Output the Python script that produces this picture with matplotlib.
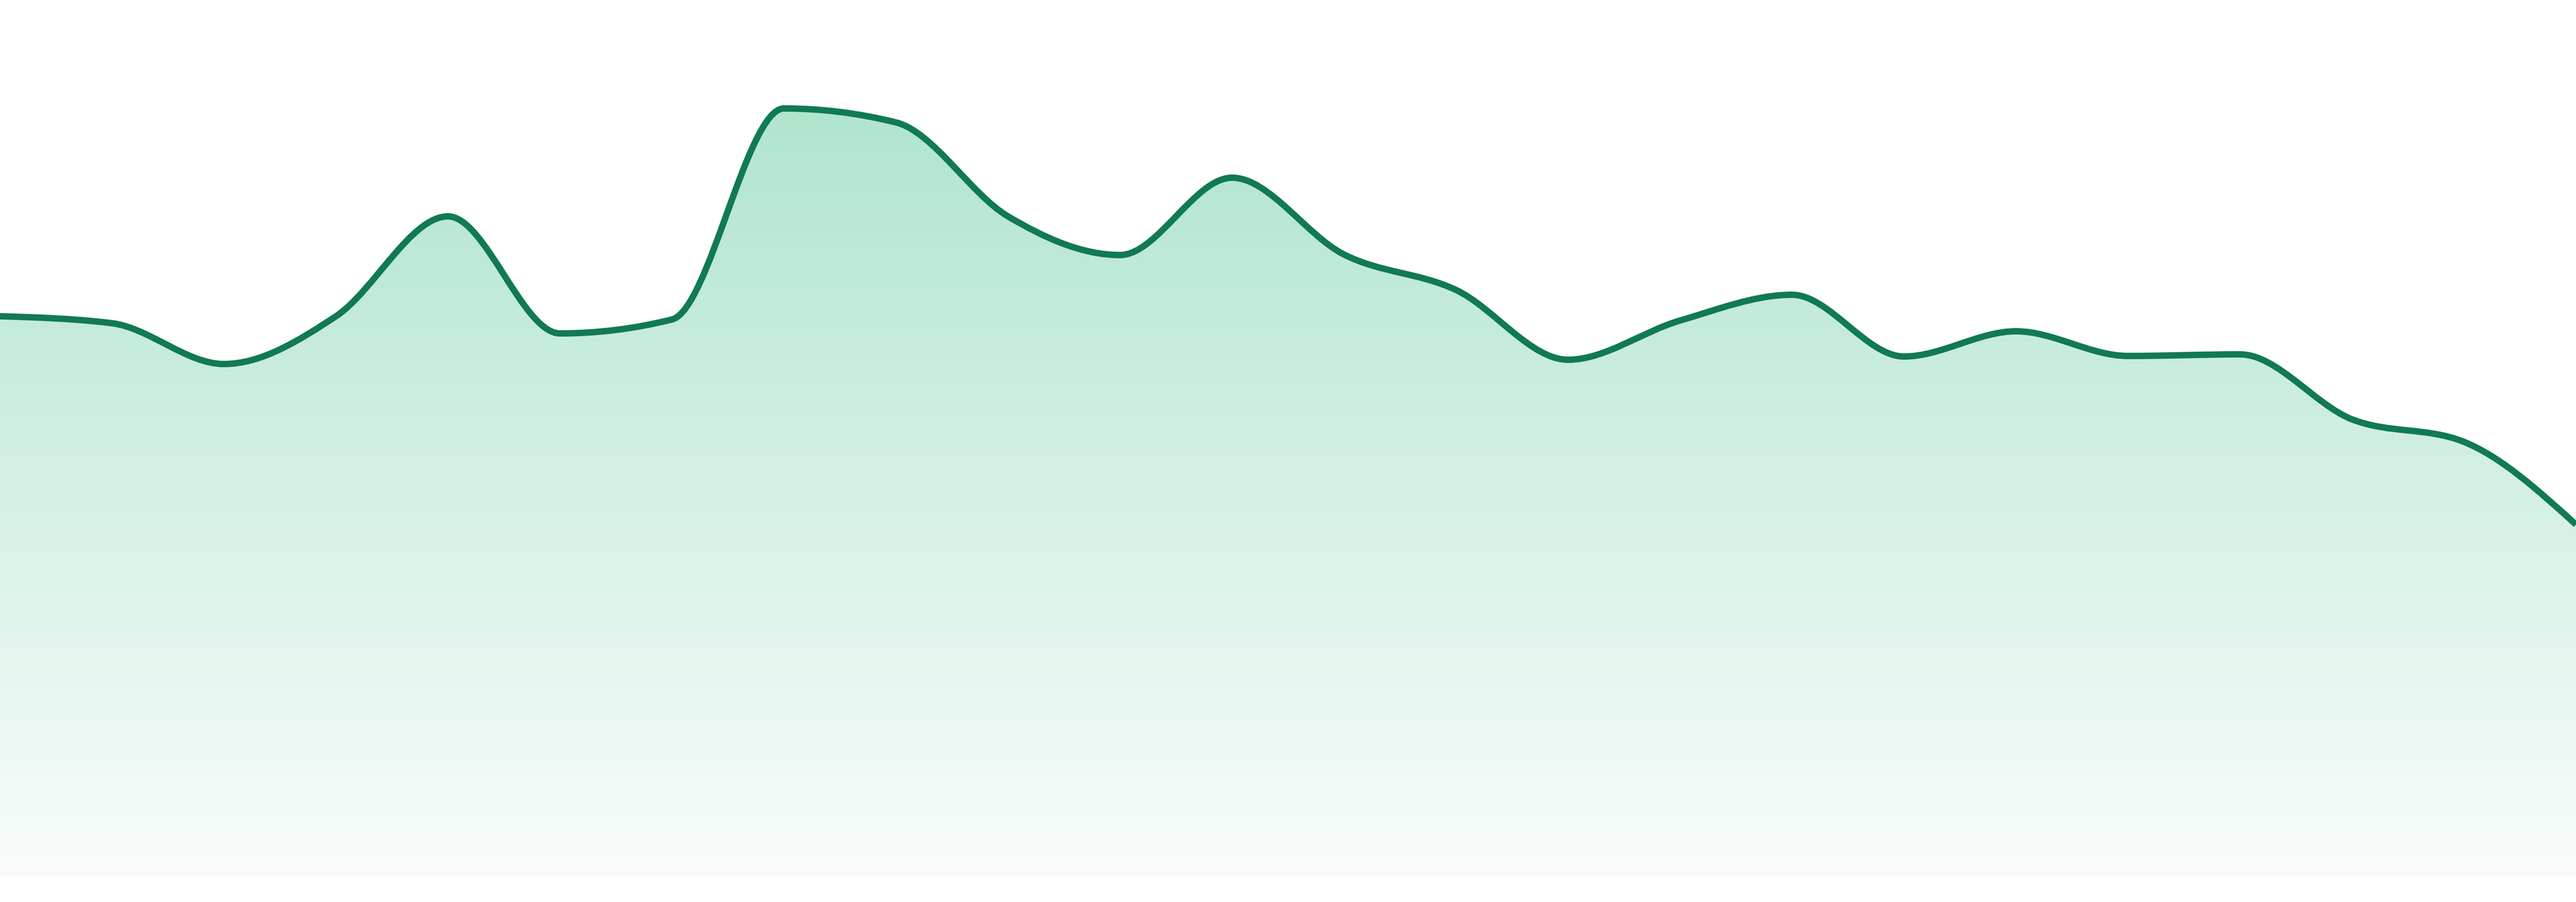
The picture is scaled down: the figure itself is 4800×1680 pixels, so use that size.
import numpy as np
import matplotlib
matplotlib.use('Agg')
import matplotlib.pyplot as plt
from matplotlib.path import Path
from matplotlib.patches import PathPatch

# values (one point per category, evenly spaced)
values = [104.2, 102.9, 95.3, 104.2, 122.8, 101.0, 103.6, 142.9, 140.3, 122.8,
          115.6, 130.0, 115.7, 109.1, 96.1, 103.4, 108.2, 96.7, 101.4, 96.8,
          97.1, 85.0, 80.8, 65.4]
points = np.arange(len(values))

line_color = '#117a52'
fill_top = np.array([176, 229, 206]) / 255
fill_bottom = np.array([249, 252, 251]) / 255


def sign(v):
    return -1.0 if v < 0 else 1.0


def monotone_tangents(x, y):
    # same slopes as d3.curveMonotoneX
    h = np.diff(x)
    s = np.diff(y) / h
    m = np.zeros(len(x))
    for i in range(1, len(x) - 1):
        p = (s[i - 1] * h[i] + s[i] * h[i - 1]) / (h[i - 1] + h[i])
        m[i] = (sign(s[i - 1]) + sign(s[i])) * min(abs(s[i - 1]), abs(s[i]), 0.5 * abs(p))
    m[0] = (3 * s[0] - m[1]) / 2
    m[-1] = (3 * s[-1] - m[-2]) / 2
    return m


def curve_path(x, y, baseline=None):
    x = np.asarray(x, float)
    y = np.asarray(y, float)
    m = monotone_tangents(x, y)
    verts = [(x[0], y[0])]
    codes = [Path.MOVETO]
    for i in range(len(x) - 1):
        dx = (x[i + 1] - x[i]) / 3
        verts += [(x[i] + dx, y[i] + dx * m[i]),
                  (x[i + 1] - dx, y[i + 1] - dx * m[i + 1]),
                  (x[i + 1], y[i + 1])]
        codes += [Path.CURVE4] * 3
    if baseline is not None:
        verts += [(x[-1], baseline), (x[0], baseline), (x[0], y[0])]
        codes += [Path.LINETO, Path.LINETO, Path.CLOSEPOLY]
    return Path(verts, codes)


fig = plt.figure(figsize=(48, 16.8), dpi=100)
ax = fig.add_axes([0, 49 / 1680, 1, 1631 / 1680])
ax.axis('off')

# gradient fill under the curve
area = PathPatch(curve_path(points, values, baseline=0), transform=ax.transData,
                 facecolor='none', edgecolor='none')
ax.add_patch(area)
t = np.linspace(0, 1, 512)[:, None]
grad = (1 - t) * fill_top + t * fill_bottom
im = ax.imshow(grad[:, None, :], extent=(points[0], points[-1], 0, max(values)),
               aspect='auto', interpolation='bilinear', origin='upper', zorder=1)
im.set_clip_path(area)

line = PathPatch(curve_path(points, values), facecolor='none', edgecolor=line_color,
                 linewidth=8.6, capstyle='butt', joinstyle='round', zorder=2)
ax.add_patch(line)

ax.set_xlim(points[0], points[-1])
ax.set_ylim(0, 163.1)

fig.savefig('out.png', dpi=100, facecolor='white')
